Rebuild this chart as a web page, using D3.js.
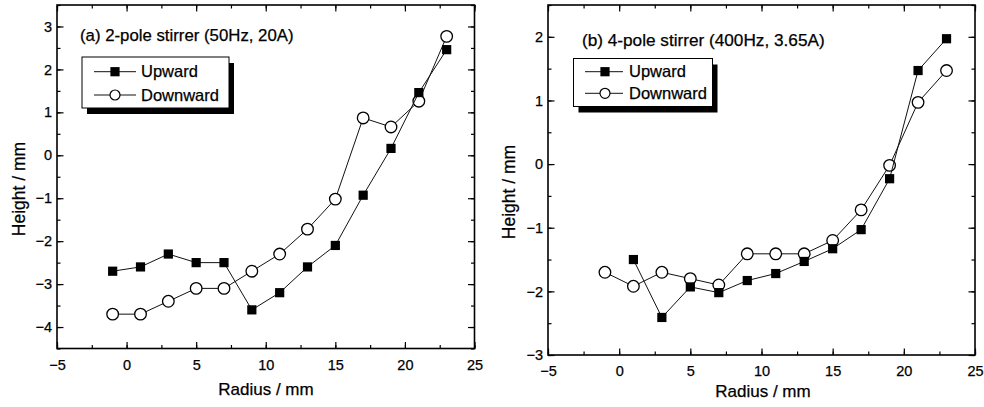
<!DOCTYPE html>
<html>
<head>
<meta charset="utf-8">
<script src="https://cdn.jsdelivr.net/npm/d3@7"></script>
<style>
  body { margin: 0; background: #fff; }
  svg { display: block; font-family: "Liberation Sans", Arial, sans-serif; }
  svg text { stroke: #000; stroke-width: 0.25px; }
</style>
</head>
<body>
<svg id="chart" width="984" height="407"></svg>
<script>
// Data
const radius = [-1, 1, 3, 5, 7, 9, 11, 13, 15, 17, 19, 21, 23];
const radiusUpB = [1, 3, 5, 7, 9, 11, 13, 15, 17, 19, 21, 23];

const upwardA = [-2.7, -2.6, -2.3, -2.5, -2.5, -3.6, -3.2, -2.6, -2.1, -0.93, 0.16, 1.46, 2.46];
const downwardA = [-3.7, -3.7, -3.4, -3.1, -3.1, -2.7, -2.3, -1.72, -1.02, 0.87, 0.66, 1.26, 2.77];

const upwardB = [-1.5, -2.41, -1.93, -2.02, -1.83, -1.72, -1.53, -1.33, -1.03, -0.23, 1.47, 1.97];
const downwardB = [-1.7, -1.92, -1.7, -1.8, -1.9, -1.41, -1.41, -1.41, -1.2, -0.72, -0.02, 0.97, 1.47];

const xTicks = [-5, 0, 5, 10, 15, 20, 25];
const yTicksA = [-4, -3, -2, -1, 0, 1, 2, 3];
const yTicksB = [-3, -2, -1, 0, 1, 2];

const titleA = "(a) 2-pole stirrer (50Hz, 20A)";
const titleB = "(b) 4-pole stirrer (400Hz, 3.65A)";
const legendLabels = ["Upward", "Downward"];

const svg = d3.select("#chart");
const fmt = d3.format("d");

function drawPanel(cfg) {
    const x = d3.scaleLinear().domain([-5, 25]).range([cfg.left, cfg.right]);
    const y = d3.scaleLinear().domain(cfg.yDomain).range([cfg.bottom, cfg.top]);
    const g = svg.append("g");

    const xMinor = d3.range(-5, 25.01, 2.5);
    const yMinor = d3.range(cfg.yDomain[0], cfg.yDomain[1] + 0.01, 0.5);

    // Minor ticks (all four sides, inward)
    g.append("g").attr("transform", `translate(0,${cfg.bottom})`)
        .call(d3.axisBottom(x).tickValues(xMinor).tickSize(-3.5).tickFormat(""));
    g.append("g").attr("transform", `translate(0,${cfg.top})`)
        .call(d3.axisTop(x).tickValues(xMinor).tickSize(-3.5).tickFormat(""));
    g.append("g").attr("transform", `translate(${cfg.left},0)`)
        .call(d3.axisLeft(y).tickValues(yMinor).tickSize(-3.5).tickFormat(""));
    g.append("g").attr("transform", `translate(${cfg.right},0)`)
        .call(d3.axisRight(y).tickValues(yMinor).tickSize(-3.5).tickFormat(""));

    // Major ticks
    g.append("g").attr("class", "lab").attr("transform", `translate(0,${cfg.bottom})`)
        .call(d3.axisBottom(x).tickValues(xTicks).tickSize(-6.5).tickPadding(11).tickFormat(fmt));
    g.append("g").attr("transform", `translate(0,${cfg.top})`)
        .call(d3.axisTop(x).tickValues(xTicks).tickSize(-6.5).tickFormat(""));
    g.append("g").attr("class", "lab").attr("transform", `translate(${cfg.left},0)`)
        .call(d3.axisLeft(y).tickValues(cfg.yTicks).tickSize(-6.5).tickPadding(5).tickFormat(fmt));
    g.append("g").attr("transform", `translate(${cfg.right},0)`)
        .call(d3.axisRight(y).tickValues(cfg.yTicks).tickSize(-6.5).tickFormat(""));

    g.selectAll(".domain").remove();
    g.selectAll(".tick line").attr("stroke", "#000").attr("stroke-width", 1.2);
    g.selectAll(".lab text").attr("fill", "#000").style("font-size", "14.5px");

    // Frame
    g.append("rect")
        .attr("x", cfg.left).attr("y", cfg.top)
        .attr("width", cfg.right - cfg.left).attr("height", cfg.bottom - cfg.top)
        .attr("fill", "none").attr("stroke", "#000").attr("stroke-width", 1.6);

    const line = d3.line().x(d => x(d[0])).y(d => y(d[1]));
    const down = cfg.downX.map((r, i) => [r, cfg.down[i]]);
    const up = cfg.upX.map((r, i) => [r, cfg.up[i]]);

    // Downward: line + open circles
    g.append("path").datum(down)
        .attr("fill", "none").attr("stroke", "#111").attr("stroke-width", 1)
        .attr("d", line);
    g.selectAll(".cir").data(down).enter().append("circle")
        .attr("cx", d => x(d[0])).attr("cy", d => y(d[1])).attr("r", 5.8)
        .attr("fill", "#fff").attr("stroke", "#000").attr("stroke-width", 1.3);

    // Upward: line + filled squares
    g.append("path").datum(up)
        .attr("fill", "none").attr("stroke", "#111").attr("stroke-width", 1)
        .attr("d", line);
    g.selectAll(".sq").data(up).enter().append("rect")
        .attr("x", d => x(d[0]) - 4.6).attr("y", d => y(d[1]) - 4.6)
        .attr("width", 9.2).attr("height", 9.2).attr("fill", "#000");

    // Panel title
    g.append("text")
        .attr("x", cfg.titleX).attr("y", cfg.titleY)
        .style("font-size", cfg.titleSize).attr("fill", "#000")
        .text(cfg.title);

    // Legend with drop shadow
    const lg = cfg.legend;
    g.append("rect")
        .attr("x", lg.x + 5).attr("y", lg.y + 6)
        .attr("width", lg.w).attr("height", lg.h).attr("fill", "#000");
    g.append("rect")
        .attr("x", lg.x).attr("y", lg.y)
        .attr("width", lg.w).attr("height", lg.h)
        .attr("fill", "#fff").attr("stroke", "#000").attr("stroke-width", 1);

    lg.rows.forEach((ry, i) => {
        g.append("line")
            .attr("x1", lg.lx1).attr("x2", lg.lx2).attr("y1", ry).attr("y2", ry)
            .attr("stroke", "#111").attr("stroke-width", 1);
        if (i === 0) {
            g.append("rect")
                .attr("x", lg.mx - 4.6).attr("y", ry - 4.6)
                .attr("width", 9.2).attr("height", 9.2).attr("fill", "#000");
        } else {
            g.append("circle")
                .attr("cx", lg.mx).attr("cy", ry).attr("r", 5)
                .attr("fill", "#fff").attr("stroke", "#000").attr("stroke-width", 1.2);
        }
        g.append("text")
            .attr("x", lg.tx).attr("y", ry).attr("dy", "0.35em")
            .style("font-size", "16.5px").attr("fill", "#000")
            .text(legendLabels[i]);
    });

    // Axis titles
    g.append("text")
        .attr("x", cfg.xLabelX).attr("y", cfg.xLabelY)
        .attr("text-anchor", "middle")
        .style("font-size", "17px").attr("fill", "#000")
        .text("Radius / mm");

    g.append("text")
        .attr("transform", `translate(${cfg.yLabelX},${cfg.yLabelY}) rotate(-90)`)
        .attr("text-anchor", "middle").attr("dy", "0.35em")
        .style("font-size", "17.5px").attr("fill", "#000")
        .text("Height / mm");
}

drawPanel({
    left: 57, right: 474.5, top: 5, bottom: 348.5,
    yDomain: [-4.5, 3.5], yTicks: yTicksA,
    upX: radius, up: upwardA, downX: radius, down: downwardA,
    title: titleA, titleX: 80, titleY: 40.5, titleSize: "16.8px",
    legend: { x: 82, y: 57, w: 147, h: 51, rows: [71.7, 95], lx1: 94, lx2: 136, mx: 115, tx: 141 },
    xLabelX: 266, xLabelY: 395,
    yLabelX: 18.5, yLabelY: 189
});

drawPanel({
    left: 548, right: 975, top: 5, bottom: 355,
    yDomain: [-3, 2.5], yTicks: yTicksB,
    upX: radiusUpB, up: upwardB, downX: radius, down: downwardB,
    title: titleB, titleX: 582, titleY: 45.5, titleSize: "17.2px",
    legend: { x: 573.5, y: 58.5, w: 139, h: 48, rows: [71.7, 93.3], lx1: 585, lx2: 623, mx: 605, tx: 629 },
    xLabelX: 763, xLabelY: 397,
    yLabelX: 508.5, yLabelY: 192
});
</script>
</body>
</html>
